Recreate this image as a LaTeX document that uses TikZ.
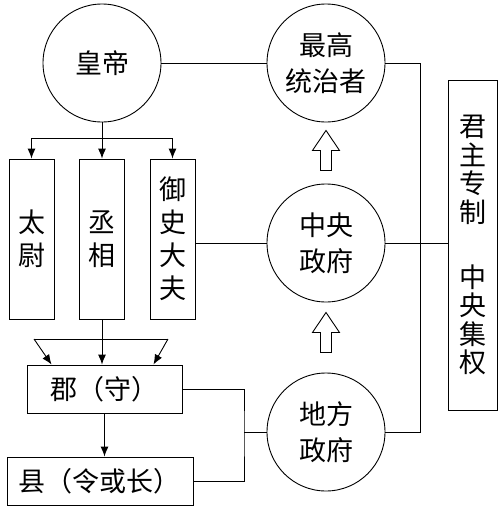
\documentclass[tikz,border=0pt]{standalone}
\usepackage{fontspec}
\setmainfont{Noto Sans CJK SC}
\usetikzlibrary{calc,arrows.meta}

\begin{document}
\begin{tikzpicture}[x=1pt,y=-1pt,>={Latex[length=10pt,width=8pt]},line width=0.9pt,
    font=\fontsize{27}{36}\selectfont]
  \tikzset{
    ring/.style={draw,circle,minimum size=118pt,inner sep=0pt,align=center},
    tallbox/.style={draw,minimum width=45pt,minimum height=160pt,inner sep=0pt,
      align=center,font=\fontsize{27}{33}\selectfont},
    widebox/.style={draw,minimum height=48pt,inner sep=0pt},
    upblock/.pic={\draw (0,0) -- (13.5,20) -- (5.5,20) -- (5.5,40) -- (-5.5,40)
      -- (-5.5,20) -- (-13.5,20) -- cycle;}
  }
  \useasboundingbox (0,0) rectangle (503,507);
  % circles
  \node[ring] (emperor) at (102,63) {皇帝};
  \node[ring] (ruler) at (326,63) {最高\\统治者};
  \node[ring] (central) at (326,243) {中央\\政府};
  \node[ring] (local) at (326,432) {地方\\政府};
  % offices
  \node[tallbox] (taiwei) at (31.5,239) {太\\尉};
  \node[tallbox] (chengxiang) at (102,239) {丞\\相};
  \node[tallbox] (yushi) at (172.5,239) {御\\史\\大\\夫};
  \node[widebox,minimum width=155pt] (jun) at (104.5,389) {郡（守）};
  \node[widebox,minimum width=186pt] (xian) at (100,481) {县（令或长）};
  \node[draw,minimum width=49pt,minimum height=330pt,inner sep=0pt,align=center,
    font=\fontsize{27}{28.5}\selectfont] (system) at (472.5,245)
    {君\\主\\专\\制\\[36.5pt]中\\央\\集\\权};
  % emperor to offices
  \draw (emperor.south) -- ++(0,16) coordinate (fork);
  \draw[->] (fork) -| (taiwei.north);
  \draw[->] (fork) -- (chengxiang.north);
  \draw[->] (fork) -| (yushi.north);
  % offices to jun
  \coordinate (fl) at (34,339);
  \coordinate (fr) at (168,339);
  \draw (fl) -- (fr);
  \draw[->] (fl) -- ([xshift=25pt]jun.north west);
  \draw[->] (fr) -- ([xshift=-29pt]jun.north east);
  \draw[->] (chengxiang.south) -- (chengxiang.south |- jun.north);
  \draw[->] (jun.south) -- (jun.south |- xian.north);
  % jun, xian to local
  \coordinate (join) at (244,432);
  \draw (jun.east) -| (join) |- (xian.east);
  \draw (join) -- (local.west);
  % right side
  \draw (emperor.east) -- (ruler.west);
  \draw (yushi.east |- central.west) -- (central.west);
  \draw (central.east) -- (central.east -| system.west);
  \draw (ruler.east) -- ++(35,0) |- (local.east);
  \pic at ([yshift=-8pt]ruler.south) {upblock};
  \pic at ([yshift=-10pt]central.south) {upblock};
\end{tikzpicture}
\end{document}
